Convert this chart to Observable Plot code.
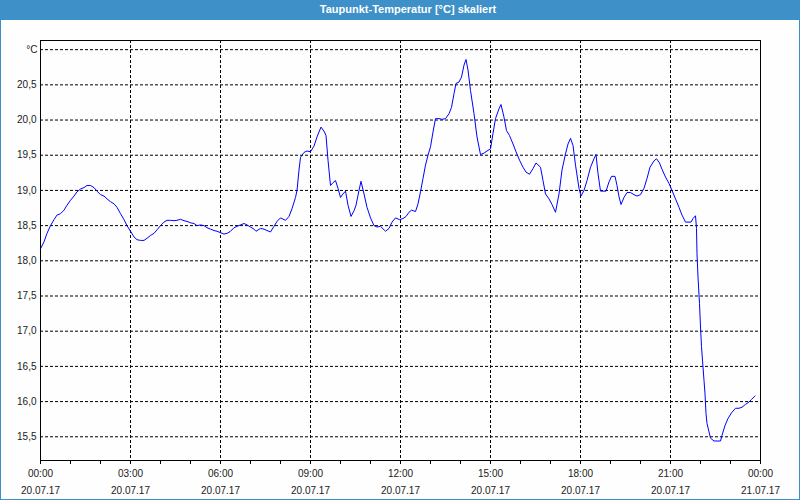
<!DOCTYPE html>
<html>
<head>
<meta charset="utf-8">
<script src="https://cdn.jsdelivr.net/npm/d3@7"></script>
<script src="https://cdn.jsdelivr.net/npm/@observablehq/plot@0.6"></script>
<style>
  html, body { margin: 0; padding: 0; background: #ffffff; }
  #wrap { position: relative; width: 800px; height: 500px; background: #fdfefd; overflow: hidden; }
  #title { height: 20px; background: #3d90c8; color: #ffffff; font: 600 11px "Liberation Sans", Arial, sans-serif;
           text-align: center; line-height: 19px; padding-left: 16px; box-sizing: border-box; }
  #border { position: absolute; left: 0; top: 0; width: 800px; height: 500px; box-sizing: border-box;
            border: 1px solid #3d90c8; pointer-events: none; }
  #chart svg { display: block; }
</style>
</head>
<body>
<div id="wrap">
  <div id="title">Taupunkt-Temperatur [°C] skaliert</div>
  <div id="chart"></div>
  <div id="border"></div>
</div>
<script>
// Minutes since 20.07.17 00:00
const minutes = [
  0, 7, 13, 20, 27, 33, 40, 47, 53, 60, 67, 73, 80, 87, 93, 100, 107, 113, 120, 127, 133, 140, 147, 153,
  160, 167, 173, 180, 187, 193, 200, 207, 213, 220, 227, 233, 240, 247,
  253, 260, 267, 273, 280, 287, 293, 300, 307, 313, 320, 327, 333, 340, 347, 353, 360, 367, 373, 380,
  387, 393, 400, 407, 413, 420, 427, 431, 440, 447, 453, 460, 467, 473, 480, 483, 490,
  497, 503, 510, 513, 517, 520, 527, 533, 540, 547, 553, 561, 568, 571, 575, 580, 585, 590, 595, 600,
  605, 610, 615, 621, 627, 631, 637, 641, 647, 653, 660, 667, 673, 680, 690, 697, 703, 710, 718, 725, 731,
  737, 742, 750, 755, 760, 765, 770, 775, 780, 785, 790, 797, 803, 810, 817, 822, 827, 831, 837, 842,
  847, 851, 855, 860, 867, 873, 880, 887, 893, 900, 905, 910, 917, 921, 927, 932, 938, 945, 951, 958,
  965, 971, 978,
  985, 991, 1000, 1005, 1010, 1017, 1023, 1030, 1037, 1043, 1050, 1055, 1060, 1065, 1070, 1077, 1081,
  1087, 1093, 1100, 1107, 1111, 1115, 1120, 1127, 1131, 1137, 1142, 1149, 1153, 1157, 1161, 1167, 1173,
  1180, 1187, 1193, 1200, 1207, 1213, 1219,
  1227, 1232, 1238, 1243, 1250, 1257, 1263, 1270, 1277, 1283, 1290, 1297, 1301, 1305, 1310, 1312, 1313,
  1315, 1318, 1320, 1322, 1325, 1327, 1329, 1331, 1333, 1337, 1340, 1347, 1353, 1360, 1363, 1369, 1375,
  1382, 1390, 1397, 1403, 1410, 1417, 1422, 1429
];
// Dew point temperature [°C]
const dewPoint = [
  18.17, 18.27, 18.39, 18.50, 18.585, 18.65, 18.67, 18.72, 18.79, 18.86, 18.92, 18.98, 19.02, 19.04, 19.07, 19.07,
  19.04, 18.99, 18.94, 18.92, 18.88, 18.84, 18.81, 18.76,
  18.67, 18.585, 18.50, 18.42, 18.34, 18.30, 18.29, 18.29, 18.32, 18.36, 18.39, 18.44, 18.50, 18.55,
  18.575, 18.575, 18.57, 18.575, 18.59, 18.57, 18.56, 18.54, 18.53, 18.50, 18.51, 18.50, 18.47, 18.45, 18.43,
  18.42, 18.40, 18.38, 18.39, 18.42,
  18.47, 18.49, 18.51, 18.53, 18.51, 18.48, 18.45, 18.42, 18.46, 18.45, 18.43, 18.41, 18.49, 18.56, 18.61, 18.60, 18.575,
  18.63, 18.74, 18.90, 19.00, 19.29, 19.47, 19.54, 19.56, 19.55, 19.63, 19.76, 19.90, 19.83, 19.78, 19.43, 19.07,
  19.11, 19.14, 19.03, 18.90,
  18.95, 18.99, 18.79, 18.63, 18.71, 18.79, 19.00, 19.13, 18.95, 18.76, 18.61, 18.50, 18.48, 18.49, 18.42, 18.46,
  18.55, 18.61, 18.585, 18.60, 18.63,
  18.69, 18.72, 18.70, 18.81, 18.98, 19.17, 19.36, 19.50, 19.62, 19.83, 20.02, 20.02, 20.01, 20.02, 20.09, 20.18,
  20.375, 20.52, 20.54, 20.61,
  20.78, 20.86, 20.71, 20.42, 20.09, 19.76, 19.51, 19.53, 19.56, 19.59, 19.81, 20.02, 20.16, 20.22, 20.04, 19.85,
  19.78, 19.66, 19.55, 19.43,
  19.33, 19.26, 19.23,
  19.31, 19.39, 19.33, 19.14, 18.95, 18.88, 18.80, 18.69, 18.95, 19.29, 19.52, 19.66, 19.74, 19.64, 19.36, 19.03, 18.92,
  19.00, 19.14, 19.33, 19.45, 19.51, 19.24, 18.99, 18.99, 18.99, 19.12, 19.20, 19.20, 19.07, 18.91, 18.80, 18.90, 18.97,
  18.97, 18.94, 18.92, 18.94, 19.03, 19.17, 19.33,
  19.42, 19.45, 19.39, 19.30, 19.19, 19.10, 19.00, 18.88, 18.76, 18.65, 18.55, 18.55, 18.55, 18.60, 18.64, 18.46, 18.10,
  17.77, 17.39, 17.06, 16.78, 16.49, 16.30, 16.11, 15.83, 15.69, 15.57, 15.48, 15.44, 15.44, 15.44, 15.52, 15.66, 15.76,
  15.84, 15.905, 15.905, 15.92, 15.96, 15.995, 16.03, 16.08
];

const yTicks = [15.5, 16.0, 16.5, 17.0, 17.5, 18.0, 18.5, 19.0, 19.5, 20.0, 20.5];
const yGridLines = [15.5, 16.0, 16.5, 17.0, 17.5, 18.0, 18.5, 19.0, 19.5, 20.0, 20.5, 21.0];
const xLabelTicks = [0, 180, 360, 540, 720, 900, 1080, 1260, 1440];
const xTimeLabels = ["00:00", "03:00", "06:00", "09:00", "12:00", "15:00", "18:00", "21:00", "00:00"];
const xDateLabels = ["20.07.17", "20.07.17", "20.07.17", "20.07.17", "20.07.17", "20.07.17", "20.07.17", "20.07.17", "21.07.17"];
const xGridLines = [180, 360, 540, 720, 900, 1080, 1260];
const xHourTicks = d3.range(0, 1441, 60);
const unitLabel = "°C";

const data = minutes.map((t, i) => ({t, v: dewPoint[i]}));

const font = "'Liberation Sans', Arial, sans-serif";
const dash = "3,2";

const chart = Plot.plot({
  width: 800,
  height: 480,
  marginTop: 20,
  marginBottom: 40,
  marginLeft: 40,
  marginRight: 40,
  style: {fontFamily: font, fontSize: "10px", color: "#1a1a1a", background: "transparent", overflow: "visible"},
  x: {domain: [0, 1440]},
  y: {domain: [15.163, 21.13]},
  marks: [
    Plot.ruleY(yGridLines, {stroke: "#000", strokeWidth: 1, strokeDasharray: dash, strokeOpacity: 1}),
    Plot.ruleX(xGridLines, {stroke: "#000", strokeWidth: 1, strokeDasharray: dash, strokeOpacity: 1}),
    Plot.line(data, {x: "t", y: "v", stroke: "#0000ff", strokeWidth: 1}),
    Plot.frame({stroke: "#000", strokeWidth: 1}),
    Plot.axisY(yTicks, {tickSize: 0, tickPadding: 4, label: null, tickFormat: d => d.toFixed(1).replace(".", ","), fill: "#1a1a1a"}),
    Plot.axisX(xHourTicks, {tickSize: 4, tickFormat: () => "", label: null, stroke: "#000", strokeOpacity: 1}),
    Plot.axisX(xLabelTicks, {tickSize: 0, tickPadding: 5, label: null, lineHeight: 1.65, fill: "#1a1a1a",
      tickFormat: d => xTimeLabels[xLabelTicks.indexOf(d)] + "\n" + xDateLabels[xLabelTicks.indexOf(d)]}),
    Plot.text([unitLabel], {frameAnchor: "top-left", textAnchor: "end", dx: -3, dy: 5, fill: "#1a1a1a"})
  ]
});
document.getElementById("chart").appendChild(chart);
</script>
</body>
</html>
